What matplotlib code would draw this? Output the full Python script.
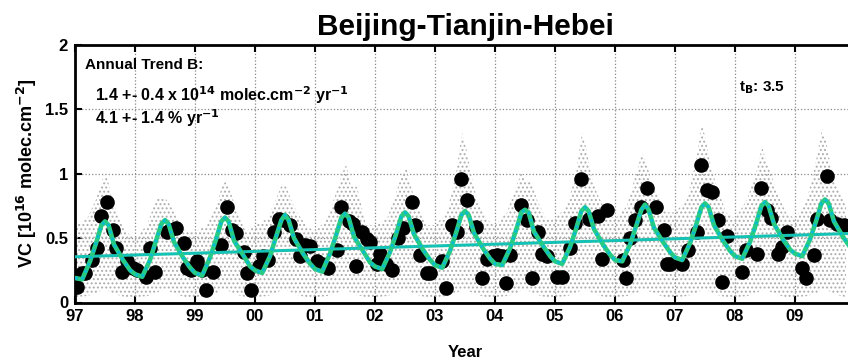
import numpy as np
import matplotlib
matplotlib.use('Agg')
import matplotlib.pyplot as plt

plt.rcParams['font.family'] = ['Liberation Sans', 'DejaVu Sans']
plt.rcParams['font.weight'] = 'bold'
plt.rcParams['mathtext.default'] = 'bf'
plt.rcParams['hatch.linewidth'] = 0.9

# monthly mean columns (decimal year, 10^16 molec/cm2)
month_t = [1997.03, 1997.11, 1997.17, 1997.28, 1997.36, 1997.44, 1997.53, 1997.64, 1997.69, 1997.78,
           1997.86, 1997.97, 1998.03, 1998.19, 1998.25, 1998.33, 1998.53, 1998.58, 1998.69, 1998.81,
           1998.86, 1998.94, 1999.03, 1999.11, 1999.19, 1999.30, 1999.44, 1999.53, 1999.61, 1999.69,
           1999.81, 1999.86, 1999.94, 2000.06, 2000.14, 2000.22, 2000.31, 2000.40, 2000.47, 2000.58,
           2000.69, 2000.75, 2000.83, 2000.92, 2001.03, 2001.11, 2001.22, 2001.36, 2001.44, 2001.56,
           2001.64, 2001.69, 2001.78, 2001.86, 2001.92, 2002.03, 2002.08, 2002.19, 2002.28, 2002.39,
           2002.47, 2002.61, 2002.67, 2002.75, 2002.86, 2002.92, 2003.11, 2003.19, 2003.28, 2003.36,
           2003.44, 2003.53, 2003.69, 2003.78, 2003.86, 2003.97, 2004.03, 2004.11, 2004.19, 2004.25,
           2004.44, 2004.53, 2004.61, 2004.71, 2004.78, 2004.86, 2005.03, 2005.11, 2005.25, 2005.33,
           2005.44, 2005.56, 2005.72, 2005.78, 2005.86, 2006.14, 2006.19, 2006.25, 2006.33, 2006.44,
           2006.53, 2006.69, 2006.81, 2006.86, 2006.92, 2007.11, 2007.22, 2007.36, 2007.44, 2007.53,
           2007.61, 2007.72, 2007.78, 2007.86, 2008.11, 2008.19, 2008.36, 2008.44, 2008.53, 2008.60,
           2008.72, 2008.78, 2008.86, 2009.11, 2009.19, 2009.31, 2009.36, 2009.53, 2009.58, 2009.70,
           2009.81]
month_vc = [0.12, 0.23, 0.23, 0.33, 0.42, 0.67, 0.78, 0.56, 0.42, 0.24,
            0.32, 0.27, 0.25, 0.20, 0.42, 0.24, 0.55, 0.56, 0.58, 0.46,
            0.27, 0.25, 0.32, 0.25, 0.10, 0.24, 0.45, 0.74, 0.56, 0.54,
            0.39, 0.23, 0.10, 0.28, 0.36, 0.33, 0.55, 0.65, 0.64, 0.60,
            0.49, 0.36, 0.45, 0.44, 0.32, 0.30, 0.27, 0.41, 0.74, 0.63,
            0.61, 0.28, 0.55, 0.49, 0.47, 0.30, 0.38, 0.30, 0.25, 0.50,
            0.58, 0.78, 0.60, 0.37, 0.23, 0.23, 0.32, 0.11, 0.60, 0.55,
            0.96, 0.80, 0.59, 0.19, 0.34, 0.36, 0.37, 0.36, 0.15, 0.37,
            0.76, 0.64, 0.19, 0.55, 0.38, 0.36, 0.20, 0.20, 0.42, 0.62,
            0.96, 0.65, 0.67, 0.34, 0.72, 0.33, 0.19, 0.50, 0.64, 0.74,
            0.89, 0.74, 0.56, 0.30, 0.30, 0.30, 0.41, 0.55, 1.07, 0.87,
            0.86, 0.64, 0.16, 0.52, 0.24, 0.41, 0.38, 0.89, 0.72, 0.66,
            0.38, 0.43, 0.55, 0.27, 0.19, 0.37, 0.65, 0.98, 0.64, 0.61,
            0.60]

# fitted seasonal + trend model, sampled along each year
fit_frac = [0.0, 0.12, 0.25, 0.35, 0.44, 0.5, 0.56, 0.65, 0.8, 0.92]
fit_years = list(range(1997, 2010))
fit_rows = [
    [0.19, 0.18, 0.32, 0.46, 0.60, 0.63, 0.60, 0.45, 0.33, 0.25],
    [0.22, 0.20, 0.33, 0.48, 0.61, 0.64, 0.61, 0.47, 0.35, 0.27],
    [0.23, 0.21, 0.35, 0.49, 0.63, 0.66, 0.63, 0.48, 0.37, 0.28],
    [0.25, 0.23, 0.36, 0.51, 0.64, 0.68, 0.64, 0.50, 0.38, 0.30],
    [0.26, 0.24, 0.38, 0.52, 0.66, 0.69, 0.66, 0.51, 0.40, 0.31],
    [0.28, 0.26, 0.39, 0.53, 0.67, 0.70, 0.67, 0.53, 0.41, 0.33],
    [0.29, 0.27, 0.40, 0.54, 0.68, 0.71, 0.68, 0.54, 0.42, 0.34],
    [0.30, 0.29, 0.42, 0.56, 0.70, 0.72, 0.70, 0.55, 0.44, 0.36],
    [0.32, 0.30, 0.43, 0.57, 0.71, 0.74, 0.71, 0.57, 0.45, 0.37],
    [0.33, 0.32, 0.45, 0.59, 0.72, 0.76, 0.72, 0.58, 0.47, 0.39],
    [0.35, 0.33, 0.46, 0.60, 0.74, 0.77, 0.74, 0.60, 0.48, 0.40],
    [0.36, 0.34, 0.47, 0.61, 0.75, 0.78, 0.75, 0.61, 0.49, 0.41],
    [0.38, 0.36, 0.49, 0.63, 0.77, 0.80, 0.77, 0.63, 0.51, 0.43],
]
fit_t = []
fit_vc = []
for yr, row in zip(fit_years, fit_rows):
    for f, v in zip(fit_frac, row):
        fit_t.append(yr + f)
        fit_vc.append(v)
fit_t.append(2010.0)
fit_vc.append(0.41)

# linear trend
trend_t = [1997.0, 2010.0]
trend_vc = [0.355, 0.537]

# spread of the daily columns (lower / upper envelope)
daily_frac = [0.0, 0.2, 0.35, 0.45, 0.52, 0.6, 0.7, 0.85]
daily_hi_rows = [
    [0.60, 0.65, 0.80, 0.95, 1.00, 0.85, 0.70, 0.55],
    [0.50, 0.60, 0.80, 0.82, 0.80, 0.75, 0.65, 0.55],
    [0.55, 0.60, 0.75, 0.90, 0.95, 0.85, 0.70, 0.55],
    [0.60, 0.65, 0.80, 0.92, 0.90, 0.80, 0.70, 0.60],
    [0.55, 0.65, 0.85, 1.00, 1.07, 0.90, 0.90, 0.60],
    [0.60, 0.65, 0.85, 1.00, 1.05, 0.90, 0.75, 0.60],
    [0.60, 0.70, 1.00, 1.32, 1.20, 1.00, 0.80, 0.65],
    [0.60, 0.70, 0.90, 1.02, 0.95, 0.95, 0.80, 0.65],
    [0.65, 0.75, 1.00, 1.32, 1.20, 1.00, 0.85, 0.70],
    [0.65, 0.75, 1.00, 1.16, 1.10, 0.95, 0.85, 0.70],
    [0.70, 0.80, 1.10, 1.39, 1.25, 1.05, 0.90, 0.70],
    [0.65, 0.80, 1.00, 1.21, 1.10, 1.00, 0.85, 0.70],
    [0.65, 0.80, 1.10, 1.35, 1.25, 1.05, 0.90, 0.75],
]
daily_lo_row = [0.04, 0.05, 0.07, 0.10, 0.10, 0.08, 0.06, 0.04]
daily_t = []
daily_hi = []
daily_lo = []
for yr, row in zip(fit_years, daily_hi_rows):
    for f, hi, lo in zip(daily_frac, row, daily_lo_row):
        daily_t.append(yr + f)
        daily_hi.append(hi)
        daily_lo.append(lo)

year_ticks = list(range(1997, 2010))
year_labels = ['97', '98', '99', '00', '01', '02', '03', '04', '05', '06', '07', '08', '09']

fig = plt.figure(figsize=(8.48, 3.61), dpi=100)
ax = fig.add_axes([75 / 848, 1 - 302.5 / 361, 780 / 848, 257.5 / 361])

# daily values shown as a grey stipple
ax.fill_between(daily_t, daily_lo, daily_hi, facecolor='none', edgecolor='#acacac',
                hatch='....', linewidth=0, zorder=1)

ax.plot(month_t, month_vc, 'o', color='black', markersize=9.5, zorder=3)
ax.plot(trend_t, trend_vc, '-', color='#1cc0a8', linewidth=2.2, zorder=4)
ax.plot(trend_t, trend_vc, ':', color='#00c8e0', linewidth=1.0, zorder=4)
ax.plot(fit_t, fit_vc, '-', color='#26cc84', linewidth=3.3, zorder=5)
ax.plot(fit_t, fit_vc, ':', color='#08bcd8', linewidth=2.0, zorder=6)

ax.set_xlim(1997, 2010)
ax.set_ylim(0, 2)
ax.set_xticks(year_ticks)
ax.set_xticklabels(year_labels)
ax.set_yticks([0, 0.5, 1, 1.5, 2])
ax.set_yticklabels(['0', '0.5', '1', '1.5', '2'])
ax.tick_params(direction='in', length=5, width=1.5, labelsize=12, top=True, right=False, pad=5)
ax.grid(True, linestyle=':', color='#888888', linewidth=0.9)
ax.set_axisbelow(True)
for side in ['left', 'top', 'bottom']:
    ax.spines[side].set_linewidth(2)
ax.spines['right'].set_visible(False)

ax.set_title('Beijing-Tianjin-Hebei', fontsize=21.5, fontweight='bold', pad=7)
ax.set_xlabel('Year', fontsize=12, fontweight='bold', labelpad=15)
ax.set_ylabel('VC [10$^{16}$ molec.cm$^{-2}$]', fontsize=13, fontweight='bold', labelpad=4)

fig.text(85 / 848, 1 - 65 / 361, 'Annual Trend B:', fontsize=11, va='center')
fig.text(95 / 848, 1 - 95 / 361, '1.4 +- 0.4 x 10$^{14}$ molec.cm$^{-2}$ yr$^{-1}$',
         fontsize=11.5, va='center')
fig.text(95 / 848, 1 - 118 / 361, '4.1 +- 1.4 % yr$^{-1}$', fontsize=11.5, va='center')
fig.text(739 / 848, 1 - 88 / 361, 't$_B$: 3.5', fontsize=11, va='center')

fig.savefig('out.png', dpi=100)
